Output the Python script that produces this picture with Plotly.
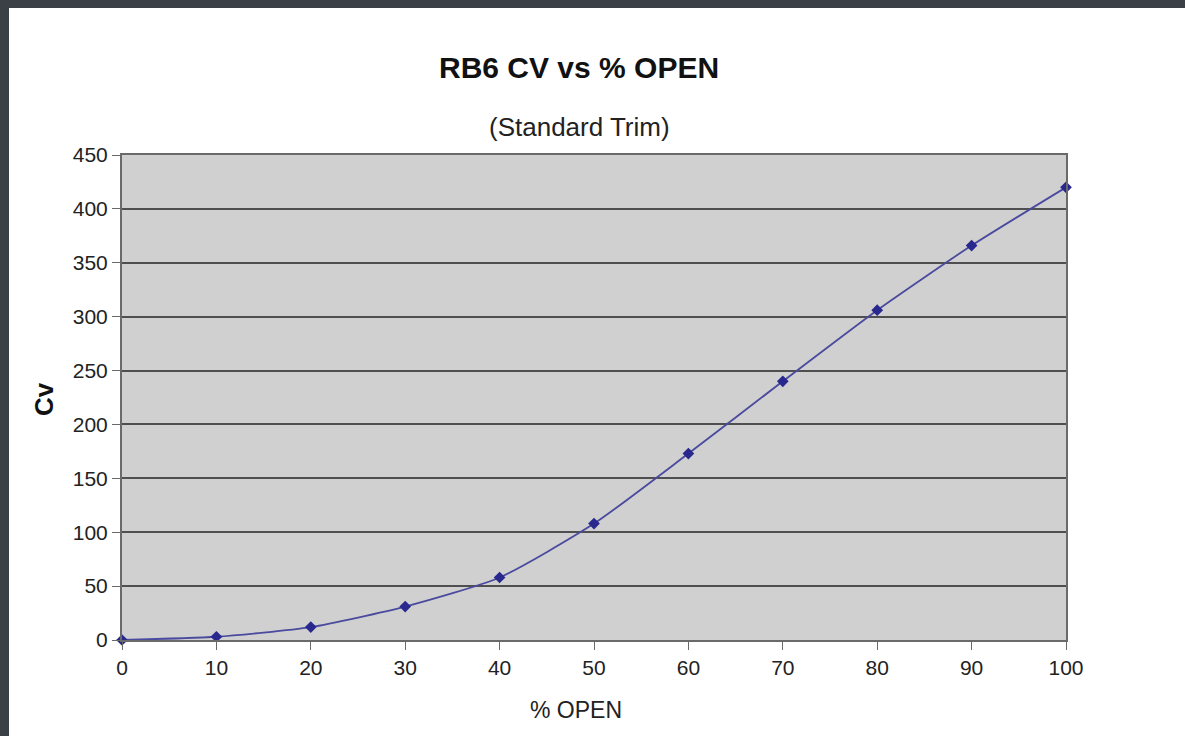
import plotly.graph_objects as go

pct_open = [0, 10, 20, 30, 40, 50, 60, 70, 80, 90, 100]
cv_values = [0, 3, 12, 31, 58, 108, 173, 240, 306, 366, 420]
x_ticks = [0, 10, 20, 30, 40, 50, 60, 70, 80, 90, 100]
y_ticks = [0, 50, 100, 150, 200, 250, 300, 350, 400, 450]

W, H = 1185, 736
L, R, T, B = 122, 119, 155, 96
pw, ph = W - L - R, H - T - B

def px(xp):
    return (xp - L) / pw

def py(yp):
    return (H - B - yp) / ph

FONT = "Liberation Sans, Arial, sans-serif"

fig = go.Figure()
fig.add_trace(go.Scatter(
    x=pct_open, y=cv_values, mode="lines+markers",
    line=dict(color="#4a4a9e", width=1.8, shape="spline", smoothing=0.6),
    marker=dict(symbol="diamond", size=9, color="#28288f"),
    showlegend=False, cliponaxis=False,
))

fig.update_xaxes(
    range=[0, 100], tickvals=x_ticks, ticktext=[str(v) for v in x_ticks],
    showgrid=False, zeroline=False, showline=True, linecolor="#6a6a6a", linewidth=2,
    mirror=True, ticks="outside", ticklen=8, tickcolor="#6a6a6a", tickwidth=1,
    tickfont=dict(family=FONT, size=21, color="#222"),
)
fig.update_yaxes(
    range=[0, 450], tickvals=y_ticks, ticktext=[str(v) for v in y_ticks],
    showgrid=True, gridcolor="#4f4f4f", gridwidth=2, zeroline=False,
    showline=True, linecolor="#6a6a6a", linewidth=2, mirror=True,
    ticks="outside", ticklen=8, tickcolor="#6a6a6a", tickwidth=1,
    tickfont=dict(family=FONT, size=21, color="#222"),
)

fig.update_layout(
    width=W, height=H,
    margin=dict(l=L, r=R, t=T, b=B, pad=0),
    paper_bgcolor="white", plot_bgcolor="#d0d0d0",
    font=dict(family=FONT),
    annotations=[
        dict(text="<b>RB6 CV vs % OPEN</b>", x=px(579), y=py(68), xref="paper", yref="paper",
             showarrow=False, font=dict(family=FONT, size=30, color="#111"), xanchor="center", yanchor="middle"),
        dict(text="(Standard Trim)", x=px(579), y=py(127), xref="paper", yref="paper",
             showarrow=False, font=dict(family=FONT, size=26, color="#222"), xanchor="center", yanchor="middle"),
        dict(text="% OPEN", x=px(576), y=py(710), xref="paper", yref="paper",
             showarrow=False, font=dict(family=FONT, size=23, color="#222"), xanchor="center", yanchor="middle"),
        dict(text="<b>Cv</b>", x=px(44), y=py(399), xref="paper", yref="paper", textangle=-90,
             showarrow=False, font=dict(family=FONT, size=26, color="#111"), xanchor="center", yanchor="middle"),
    ],
    shapes=[
        dict(type="rect", xref="paper", yref="paper", x0=px(0), x1=px(W), y0=py(8), y1=py(0),
             fillcolor="#3b4046", line=dict(width=0), layer="above"),
        dict(type="rect", xref="paper", yref="paper", x0=px(0), x1=px(9), y0=py(H), y1=py(0),
             fillcolor="#3b4046", line=dict(width=0), layer="above"),
    ],
)

fig.write_html("out.html", config={"displayModeBar": False},
               post_script="document.body.style.margin='0';document.body.style.padding='0';")
